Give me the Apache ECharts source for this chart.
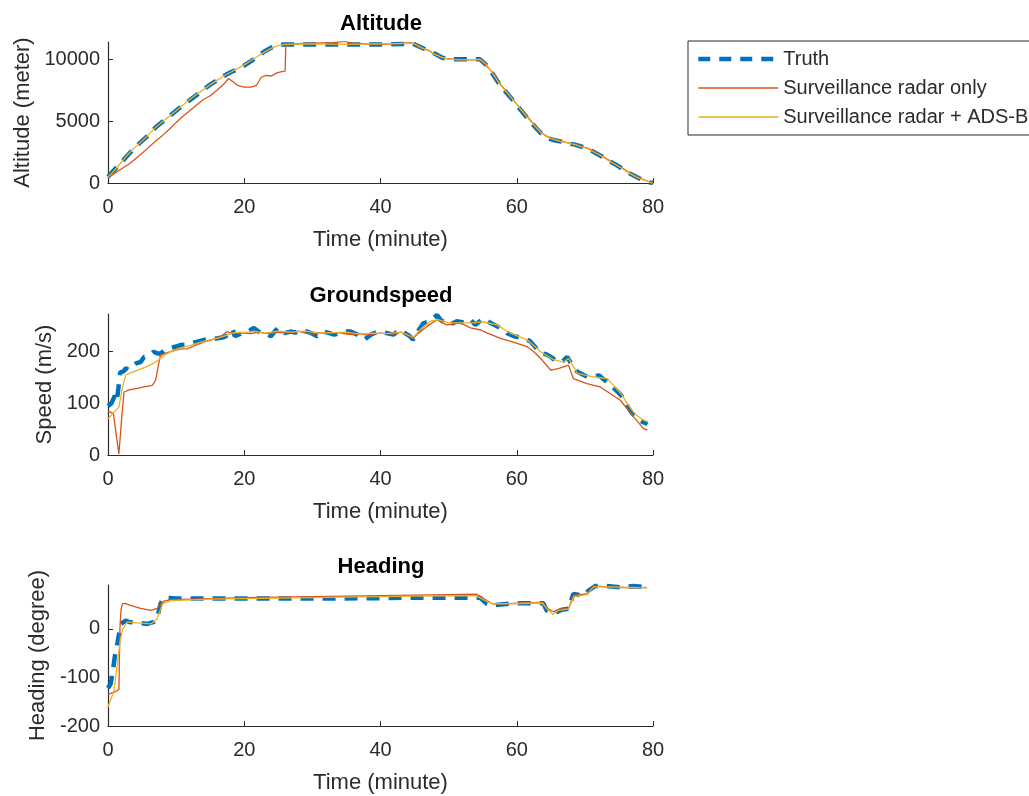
<!DOCTYPE html>
<html>
<head>
<meta charset="utf-8">
<script src="https://cdn.jsdelivr.net/npm/echarts@6/dist/echarts.min.js"></script>
<style>html,body{margin:0;padding:0;background:#fff}#c{width:1029px;height:796px}</style>
</head>
<body>
<div id="c"></div>
<script>
// ---------- data (time in minutes) ----------
const seriesNames = ['Truth', 'Surveillance radar only', 'Surveillance radar + ADS-B'];
const xTicks = [0, 20, 40, 60, 80];
const altTicks = [0, 5000, 10000];
const spdTicks = [0, 100, 200];
const hdgTicks = [-200, -100, 0];

// Altitude (meter)
const altTruthT = [0,1,2,3,4,5,6,7,8,9,10,11,12,13,14,15,16,17,18,19,20,21,22,23,24,25,26,30,35,40,44.8,46,47,48,49,50,52,54.6,55.5,56.5,57.5,58.5,59.5,60.5,61.5,62.5,63.5,64.5,65.5,66.5,67.5,68.5,69.5,70.5,71.5,72.5,73.5,74.5,75.5,76.5,77.5,78.5,79.5,80];
const altTruthV = [500,1100,1700,2300,2900,3400,3900,4500,4950,5400,5850,6300,6700,7100,7550,7950,8300,8650,8950,9200,9500,9850,10250,10650,10950,11150,11200,11200,11200,11200,11250,10950,10700,10450,10150,10000,10000,10000,9550,8800,7950,7300,6650,5950,5300,4650,4050,3650,3450,3350,3200,3100,2950,2750,2450,2150,1800,1500,1150,800,500,250,50,0];
const altRadarT = [0,0.6,1,2,3,4,5,6,7,8,9,10,11,12,13,14,15,16,17,17.7,18.3,19,20,21,21.8,22.5,23.2,24,24.8,25.5,26,26.1,27,30,33,34.7,36,38,40,42,44.5,45.5,47,48,49.5,52,54.5,55.5,56.5,57.5,58.5,59.5,60.5,61.5,62.5,63.5,64.5,65.5,66.5,67.5,68.5,69.5,70.5,71.5,72.5,73.5,74.5,75.5,76.5,77.5,78.5,79.5,80];
const altRadarV = [600,650,800,1150,1500,1950,2400,2900,3400,3850,4350,4900,5400,5850,6300,6750,7050,7500,8000,8450,8200,7900,7750,7750,7900,8550,8700,8650,8900,9000,9050,11150,11250,11300,11350,11450,11300,11250,11200,11250,11350,11000,10750,10400,10050,9950,9950,9500,8900,8050,7400,6700,6050,5400,4750,4100,3750,3550,3400,3250,3150,2950,2800,2500,2200,1850,1500,1200,850,550,300,100,0];
const altFusedT = [0,1,2,3,4,5,6,7,8,9,10,11,12,13,14,15,16,17,18,19,20,21,22,23,24,25,26,30,35,40,44.8,46,47,48,49,50,52,54.6,55.5,56.5,57.5,58.5,59.5,60.5,61.5,62.5,63.5,64.5,65.5,66.5,67.5,68.5,69.5,70.5,71.5,72.5,73.5,74.5,75.5,76.5,77.5,78.5,79.5,80];
const altFusedV = [450,1050,1700,2350,2900,3400,3950,4500,4950,5400,5850,6300,6750,7150,7550,7950,8300,8650,8950,9250,9550,9900,10250,10600,10900,11100,11200,11250,11200,11250,11300,10950,10700,10400,10150,10000,9950,10000,9600,8850,8000,7350,6700,6000,5350,4700,4100,3700,3500,3350,3250,3100,2950,2750,2450,2150,1800,1500,1150,800,500,280,80,0];

// Groundspeed (m/s)
const spdTruthT = [0,0.5,1,1.3,1.8,2.3,2.6,3,3.5,4.2,4.8,5.3,6,6.7,7.2,7.7,8.3,9.2,10,10.7,11.5,12.1,13,14.1,15,16.1,17,17.8,18.3,18.6,19.5,20.5,21.4,22,22.4,23.2,23.9,24.9,25.4,25.9,26.8,27.5,28.3,29,29.8,30.7,31.7,32.5,33.2,34,34.7,35.6,36.6,37.6,38.6,39.6,40.5,41.9,42.9,43.6,44.3,44.8,45.3,46.3,47.3,48.3,48.8,49.5,50.2,51.2,52.5,53.2,53.9,55.2,56.1,57.6,58.6,59.6,61.1,62,63.5,64.3,65,66,66.8,67.4,68.2,68.9,70.4,71.3,72.1,72.9,73.5,74.3,75.3,76,76.8,77.7,78.5,79.2];
const spdTruthV = [95,100,115,105,160,162,168,165,172,178,180,190,192,200,197,196,203,207,210,213,214,216,219,223,224,226,228,233,243,230,235,238,246,240,236,235,230,246,240,236,239,237,242,240,236,230,239,236,233,236,239,239,233,223,233,239,237,233,243,236,230,223,236,255,259,271,262,255,252,259,256,262,252,265,256,246,236,230,226,220,197,195,190,180,182,190,172,161,151,152,154,145,138,129,116,100,83,70,64,60];
const spdRadarT = [0,0.8,1.2,1.6,2,2.35,3.1,4.3,5.3,6.5,7,7.2,7.7,9.2,10.5,11.65,13,14.1,15.5,16.5,17.5,18.2,19,20,21,22,23,24,25,26,27,28,29,30,31,32,33,34,35,36,37,38,39,39.9,41,42,43,44,44.8,45.5,46.8,48.3,49.7,50.5,51.7,53.2,54.7,55.7,57.6,59.6,61.5,62.5,63.5,65,66.3,67.6,68.3,70.3,72.2,73.7,75.2,76.6,77.6,78.6,79.2];
const spdRadarV = [85,80,40,2,70,122,126,129,132,135,145,160,194,200,205,206,213,219,224,229,239,235,236,236,235,238,236,235,238,236,238,240,236,234,237,235,236,237,234,233,235,232,234,236,235,234,238,232,226,235,249,262,252,253,256,246,242,236,226,218,210,200,187,164,168,174,148,138,132,119,106,83,67,51,48];
const spdFusedT = [0,0.9,1.6,2.1,2.6,3.5,4.3,5.5,6.75,7.5,8.2,9.2,10.5,12,14,16,17.5,18.5,20,21.5,23,25,27,29,31,33,35,37,39,41,43,44.8,46,47.3,48.5,50,52,53.7,55,57.1,58.5,59.6,61.5,62.5,63.5,65.5,66.9,67.6,68.9,71.4,73.3,74.3,75.3,76.3,77.3,78.3,79.2];
const spdFusedV = [70,83,93,130,155,160,164,170,178,185,193,200,207,212,220,226,232,237,237,240,236,240,238,240,236,237,238,234,236,235,238,228,245,259,262,256,256,256,258,252,240,233,223,212,200,184,180,187,158,151,148,133,119,98,80,70,64];

// Heading (degree)
const hdgTruthT = [0,0.4,0.65,1.1,1.4,1.9,2.6,3.1,5.8,6.75,7.25,7.7,8.2,10,20,30,40,45,54.6,55.6,56.3,59.5,63.9,64.4,65.4,66.6,67.6,68.3,69.8,70.5,71.5,73.2,75.2,77.1,79.1];
const hdgTruthV = [-122,-113,-92,-48,-28,10,17,14,10,14,24,51,64,62,62,62,63,64,64,51,48,52.6,52.6,37.6,31,39,41,71.8,68,78,88,88,85,88,85];
const hdgRadarT = [0,1,1.6,1.75,1.9,2.1,2.5,3.3,4.8,6.3,7.2,8.2,9.2,15,20,25,30,35,40,45,50,54.1,55.6,56.5,59.5,63.4,64.6,65.4,66.3,67.6,68.3,70.3,71.3,74.2,77,79.1];
const hdgRadarV = [-135,-130,-125,0,38,51,52,48,42,38,42,57,60,62,64,65,66,67,68,69,70,71,58,51,52,54,41,35,41,41,68,72,88,85,84,85];
const hdgFusedT = [0,0.88,1.37,1.8,2.1,2.8,4.3,6.3,7.2,8,9.2,15,25,35,45,54,55.5,56.5,60,63.8,64.5,65.3,66.2,67.6,68.4,70.3,71.3,74,77,79.1];
const hdgFusedV = [-161,-127,-72,-25,-3,14,12,10,20,51,58,61,63,65,67,68,57,51,52,53,40,30,38,41,66,70,86,86,85,84];

// ---------- chart ----------
const FONT = 'Liberation Sans';
const TXT = '#2b2b2b';
const colors = ['#0072BD', '#D95319', '#EDB120'];
const pairs = (t, v) => t.map((x, i) => [x, v[i]]);

const panels = [
  { title: 'Altitude', yName: 'Altitude (meter)', top: 42, min: 0, max: 11400, ticks: altTicks, gap: 74,
    data: [pairs(altTruthT, altTruthV), pairs(altRadarT, altRadarV), pairs(altFusedT, altFusedV)] },
  { title: 'Groundspeed', yName: 'Speed (m/s)', top: 314, min: 0, max: 273, ticks: spdTicks, gap: 52,
    data: [pairs(spdTruthT, spdTruthV), pairs(spdRadarT, spdRadarV), pairs(spdFusedT, spdFusedV)] },
  { title: 'Heading', yName: 'Heading (degree)', top: 585, min: -200, max: 90, ticks: hdgTicks, gap: 59,
    data: [pairs(hdgTruthT, hdgTruthV), pairs(hdgRadarT, hdgRadarV), pairs(hdgFusedT, hdgFusedV)] }
];

const legendLine = [
  { type: [12, 9], width: 4.5 },
  { type: 'solid', width: 1.3 },
  { type: 'solid', width: 1.3 }
];

const option = {
  animation: false,
  backgroundColor: '#ffffff',
  title: panels.map(p => ({
    text: p.title, left: 381, top: p.top - 29, textAlign: 'center', padding: 0,
    textStyle: { fontFamily: FONT, fontSize: 22, fontWeight: 'bold', color: '#000' }
  })),
  legend: {
    data: seriesNames.map((n, k) => ({
      name: n,
      lineStyle: { color: colors[k], width: legendLine[k].width, type: legendLine[k].type }
    })),
    orient: 'vertical', left: 688, top: 41,
    padding: [8, 8, 8, 8], itemGap: 9, itemWidth: 80, itemHeight: 20,
    borderColor: TXT, borderWidth: 1, backgroundColor: '#fff', borderRadius: 0,
    itemStyle: { color: 'rgba(0,0,0,0)', borderWidth: 0, opacity: 0 },
    textStyle: { fontFamily: FONT, fontSize: 20, color: TXT, lineHeight: 20 }
  },
  grid: panels.map(p => ({ left: 108, width: 545, top: p.top, height: 141, containLabel: false })),
  xAxis: panels.map((p, i) => ({
    type: 'value', gridIndex: i, min: 0, max: 80, interval: 20,
    name: 'Time (minute)', nameLocation: 'middle', nameGap: 46,
    nameTextStyle: { fontFamily: FONT, fontSize: 22, color: TXT },
    axisLine: { show: true, onZero: false, lineStyle: { color: TXT, width: 1.2 } },
    axisTick: { show: true, inside: true, length: 5, lineStyle: { color: TXT } },
    axisLabel: { fontFamily: FONT, fontSize: 20, color: TXT, margin: 14, formatter: v => String(v) },
    splitLine: { show: false }
  })),
  yAxis: panels.map((p, i) => ({
    type: 'value', gridIndex: i, min: p.min, max: p.max,
    name: p.yName, nameLocation: 'middle', nameGap: p.gap, nameRotate: 90,
    nameTextStyle: { fontFamily: FONT, fontSize: 22, color: TXT },
    axisLine: { show: true, onZero: false, lineStyle: { color: TXT, width: 1.2 } },
    axisTick: { show: true, inside: true, length: 5, lineStyle: { color: TXT }, customValues: p.ticks },
    axisLabel: { fontFamily: FONT, fontSize: 20, color: TXT, margin: 8, customValues: p.ticks, formatter: v => String(v) },
    splitLine: { show: false }
  })),
  series: []
};

panels.forEach((p, i) => {
  seriesNames.forEach((name, k) => {
    option.series.push({
      type: 'line', name: name, xAxisIndex: i, yAxisIndex: i,
      data: p.data[k], symbol: 'none', showSymbol: false, smooth: false, z: 2 + k,
      itemStyle: { color: colors[k] },
      lineStyle: k === 0
        ? { color: colors[k], width: 4.5, type: [13, 9] }
        : { color: colors[k], width: 1.3 },
      emphasis: { disabled: true }
    });
  });
});

const chart = echarts.init(document.getElementById('c'), null, { renderer: 'canvas' });
chart.setOption(option);
</script>
</body>
</html>
